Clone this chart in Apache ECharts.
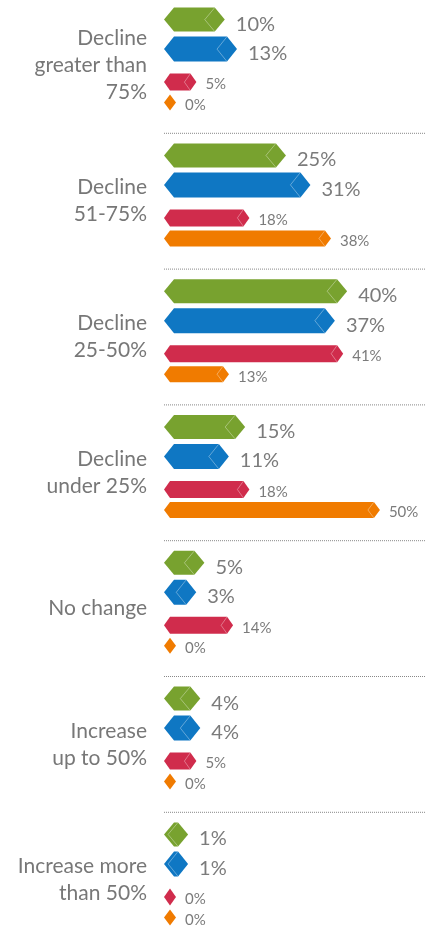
<!DOCTYPE html>
<html>
<head>
<meta charset="utf-8">
<script src="https://cdn.jsdelivr.net/npm/echarts@6/dist/echarts.min.js"></script>
<style>
  html, body { margin: 0; padding: 0; background: #fff; }
  #main { width: 425px; height: 928px; }
</style>
</head>
<body>
<div id="main"></div>
<script>
// categories, top to bottom
var categories = ['Decline\ngreater than\n75%', 'Decline\n51-75%', 'Decline\n25-50%',
                  'Decline\nunder 25%', 'No change', 'Increase\nup to 50%', 'Increase more\nthan 50%'];

// series values (%)
var greenVals  = [10, 25, 40, 15, 5, 4, 1];
var blueVals   = [13, 31, 37, 11, 3, 4, 1];
var redVals    = [5, 18, 41, 18, 14, 5, 0];
var orangeVals = [0, 38, 13, 50, 0, 0, 0];

var seriesColors = ['#78a22f', '#0f77c3', '#d02c4c', '#f07b00'];

// bar style per series: offset from group centre, height, tip depth, label font size, label offset
var barStyle = [
    {dy: -45.8, h: 24, d: 10, fs: 20, ly: 4.5},
    {dy: -16.3, h: 25, d: 10, fs: 20, ly: 4.5},
    {dy: 16.7,  h: 17, d: 6,  fs: 15, ly: 2.5},
    {dy: 37.2,  h: 16, d: 6,  fs: 15, ly: 2.5}
];

var myChart = echarts.init(document.getElementById('main'));

function makeRender(idx){
    var st = barStyle[idx];
    return function(params, api){
        var cat = api.value(1);
        var p0 = api.coord([0, cat]);
        var p1 = api.coord([api.value(0), cat]);
        var yc = p0[1] + st.dy;
        var L = p0[0], R = p1[0], d = st.d, h2 = st.h / 2;
        var pts = [
            [L, yc], [L + d, yc - h2], [R + d, yc - h2],
            [R + 2 * d, yc], [R + d, yc + h2], [L + d, yc + h2]
        ];
        var children = [];
        // dotted separator above each group (drawn once, by the first series)
        if (idx === 0 && cat > 0) {
            var half = api.size([0, 1])[1] / 2;
            children.push({
                type: 'line',
                shape: {x1: L, y1: p0[1] - half, x2: 425, y2: p0[1] - half},
                style: {stroke: '#888', lineWidth: 1, lineDash: [1, 1]}
            });
        }
        children.push({
            type: 'polygon',
            shape: {points: pts},
            style: {fill: seriesColors[idx]}
        });
        if (api.value(0) > 0) {
            children.push({
                type: 'polyline',
                shape: {points: [[R + d, yc - h2], [R, yc], [R + d, yc + h2]]},
                style: {stroke: 'rgba(255,255,255,0.35)', lineWidth: 1, fill: null}
            });
        }
        children.push({
            type: 'text',
            style: {
                x: R + 2 * d + (idx < 2 ? 11 : 9),
                y: yc + st.ly,
                text: api.value(0) + '%',
                fill: '#7b7b7b',
                font: st.fs + 'px Lato',
                verticalAlign: 'middle',
                align: 'left'
            }
        });
        return {type: 'group', children: children};
    };
}

var allVals = [greenVals, blueVals, redVals, orangeVals];
var series = allVals.map(function(vals, i){
    return {
        type: 'custom',
        renderItem: makeRender(i),
        encode: {x: 0, y: 1},
        clip: false,
        data: vals.map(function(v, j){ return [v, j]; })
    };
});

option = {
    animation: false,
    grid: {left: 164, right: 0, top: 65.4, height: 814.8},
    xAxis: {
        type: 'value', min: 0, max: 64,
        show: false, splitLine: {show: false}
    },
    yAxis: {
        type: 'category',
        inverse: true,
        boundaryGap: false,
        data: categories,
        axisLine: {show: false},
        axisTick: {show: false},
        splitLine: {show: false},
        axisLabel: {
            margin: 17,
            fontFamily: 'Lato',
            fontSize: 21,
            lineHeight: 27,
            color: '#777',
            align: 'right'
        }
    },
    series: series
};
myChart.setOption(option);
</script>
</body>
</html>
